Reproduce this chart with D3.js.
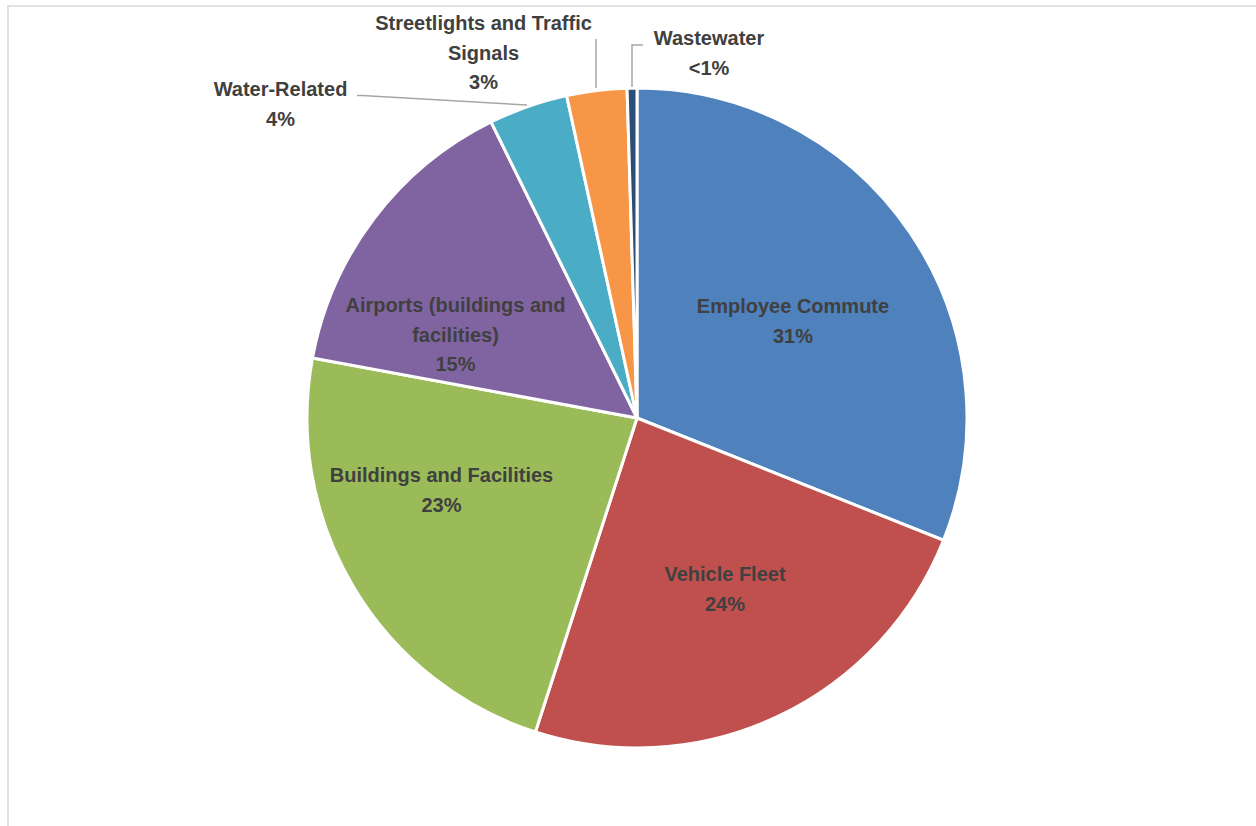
<!DOCTYPE html>
<html>
<head>
<meta charset="utf-8">
<script src="https://cdn.jsdelivr.net/npm/d3@7"></script>
<style>
  html, body { margin: 0; padding: 0; background: #fff; }
  svg { display: block; }
  text { font-family: "Liberation Sans", Arial, sans-serif; font-weight: bold; fill: #404040; font-size: 20px; }
</style>
</head>
<body>
<svg id="chart" width="1256" height="826"></svg>
<script>
const categories = ["Employee Commute", "Vehicle Fleet", "Buildings and Facilities",
  "Airports (buildings and facilities)", "Water-Related", "Streetlights and Traffic Signals", "Wastewater"];
const values = [31.04, 23.94, 22.93, 14.80, 3.87, 2.94, 0.48];
const percentLabels = ["31%", "24%", "23%", "15%", "4%", "3%", "<1%"];
const colors = ["#4F81BD", "#C0504D", "#9BBB59", "#8064A2", "#4BACC6", "#F79646", "#2C4D75"];

// label layout (name lines as wrapped in the original)
const labelLines = [
  ["Employee Commute"],
  ["Vehicle Fleet"],
  ["Buildings and Facilities"],
  ["Airports (buildings and", "facilities)"],
  ["Water-Related"],
  ["Streetlights and Traffic", "Signals"],
  ["Wastewater"]
];
const labelPos = [
  {x: 793, y: 313}, {x: 725, y: 581}, {x: 441.5, y: 482}, {x: 455.5, y: 312},
  {x: 280.5, y: 96}, {x: 483.5, y: 30}, {x: 709, y: 45}
];
const leaders = {
  4: [[357, 95.5], [362, 95.5], [527, 105]],
  5: [[596, 39], [596, 88]],
  6: [[643, 45], [632, 45], [632, 87]]
};

const svg = d3.select("#chart");
const cx = 637, cy = 418, r = 330;

// chart area border (top & left visible)
svg.append("rect").attr("x", 8).attr("y", 6).attr("width", 1270).attr("height", 840)
  .attr("fill", "none").attr("stroke", "#D9D9D9").attr("stroke-width", 1.5);

const data = categories.map((c, i) => ({name: c, value: values[i], i}));
const pie = d3.pie().value(d => d.value).sort(null).startAngle(0).endAngle(2 * Math.PI);
const arc = d3.arc().innerRadius(0).outerRadius(r);

const g = svg.append("g").attr("transform", `translate(${cx},${cy})`);
g.selectAll("path").data(pie(data)).join("path")
  .attr("d", arc)
  .attr("fill", d => colors[d.data.i])
  .attr("stroke", "#fff").attr("stroke-width", 3).attr("stroke-linejoin", "round");

// leader lines
Object.entries(leaders).forEach(([k, pts]) => {
  svg.append("polyline").attr("points", pts.map(p => p.join(",")).join(" "))
    .attr("fill", "none").attr("stroke", "#A6A6A6").attr("stroke-width", 1.5);
});

// labels
data.forEach((d, i) => {
  const lines = labelLines[i].concat([percentLabels[i]]);
  const t = svg.append("text").attr("text-anchor", "middle");
  lines.forEach((ln, j) => {
    t.append("tspan").attr("x", labelPos[i].x).attr("y", labelPos[i].y + j * 29.5).text(ln);
  });
});
</script>
</body>
</html>
